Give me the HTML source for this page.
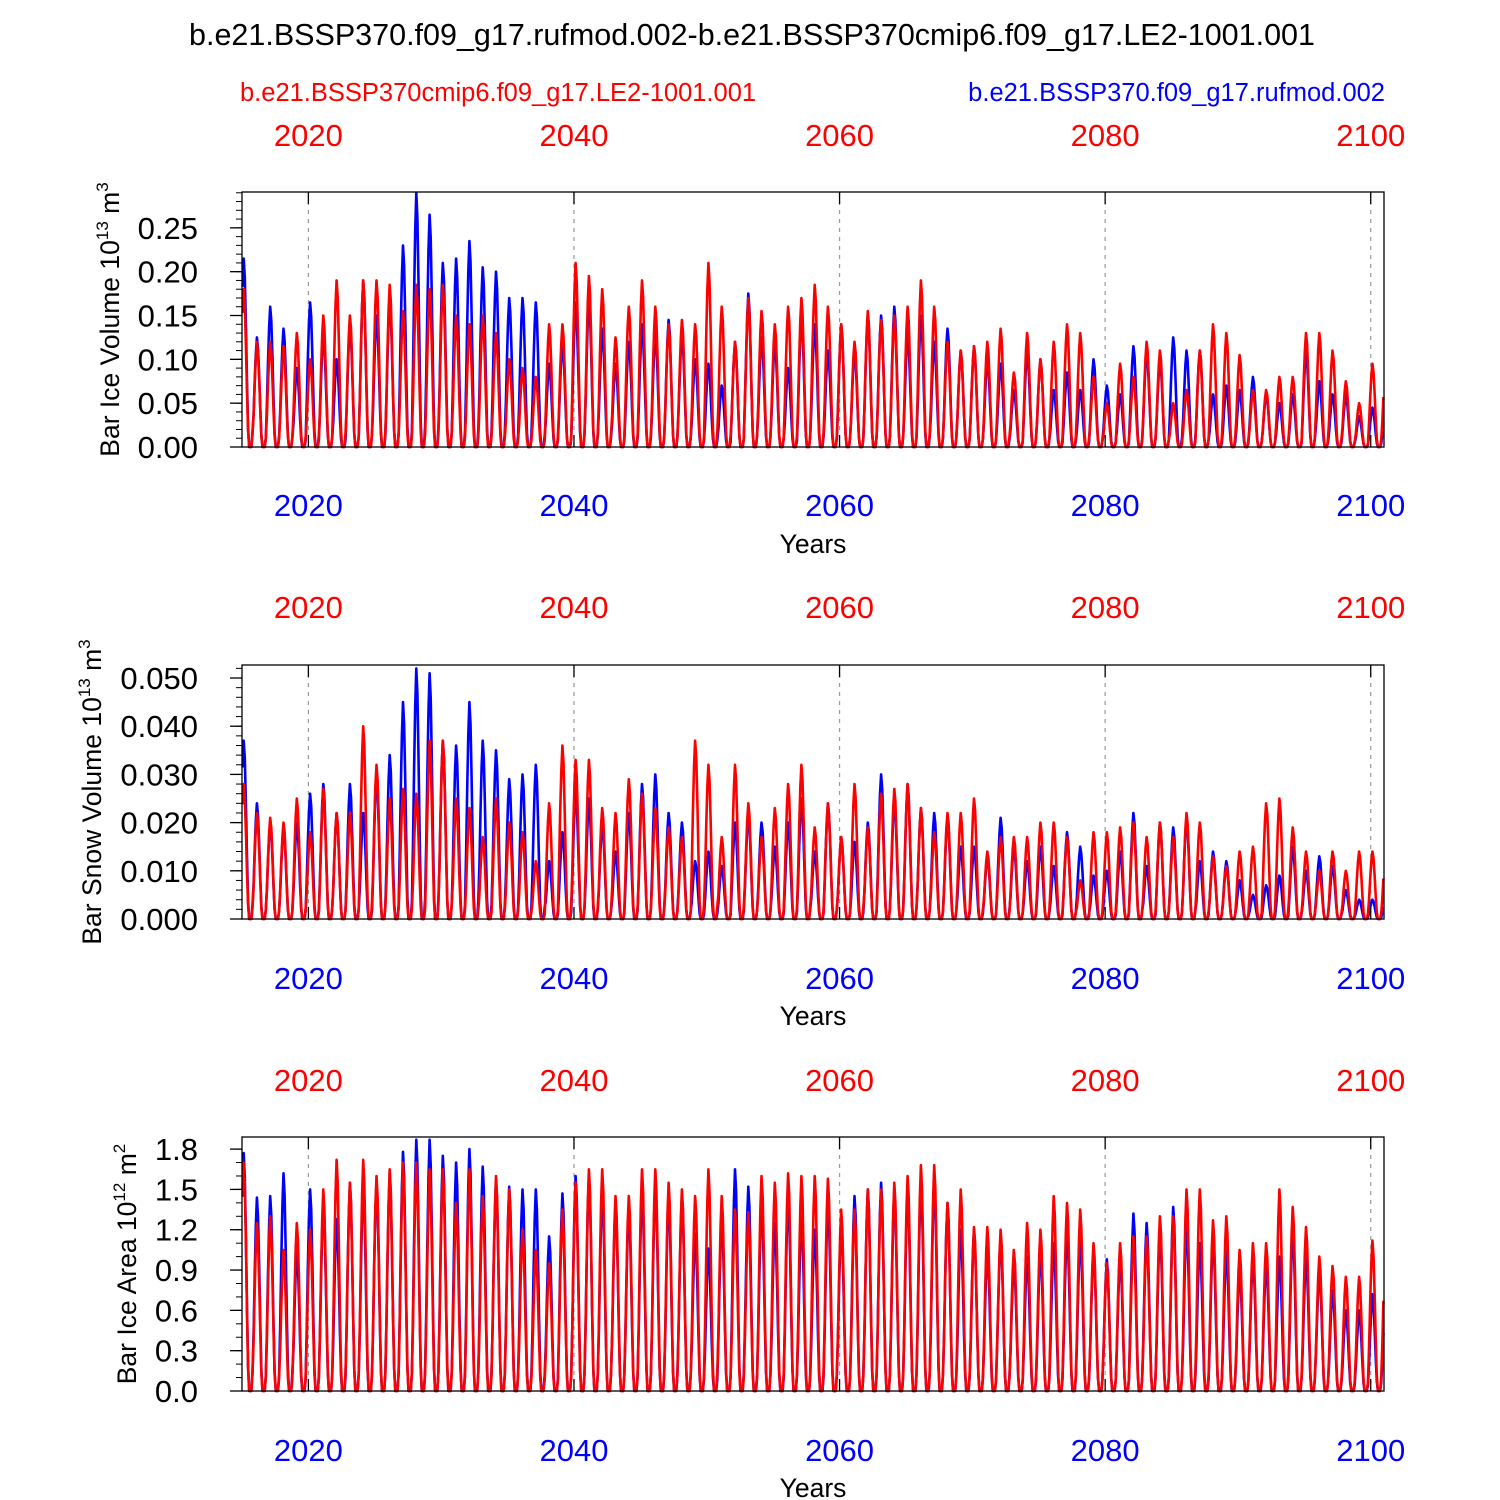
<!DOCTYPE html>
<html><head><meta charset="utf-8"><style>
body{margin:0;background:#fff;}
svg{display:block;font-family:"Liberation Sans",sans-serif;}
</style></head><body>
<svg id="chart" width="1500" height="1500" viewBox="0 0 1500 1500">
<text x="752" y="45" font-size="30.5" text-anchor="middle">b.e21.BSSP370.f09_g17.rufmod.002-b.e21.BSSP370cmip6.f09_g17.LE2-1001.001</text>
<text x="240" y="101" font-size="25.5" fill="#f00">b.e21.BSSP370cmip6.f09_g17.LE2-1001.001</text>
<text x="1385" y="101" font-size="25.5" fill="#00f" text-anchor="end">b.e21.BSSP370.f09_g17.rufmod.002</text>
</svg>
<script>
const years = [];
for (let y = 2015; y <= 2100; y++) years.push(y);
const xTickYears = [2020, 2040, 2060, 2080, 2100];
const seasonalShape = [0.85, 1.0, 0.9, 0.65, 0.35, 0.1, 0.0, 0.0, 0.0, 0.08, 0.3, 0.6];

const volRed = [0.18,0.12,0.12,0.115,0.13,0.10,0.15,0.19,0.15,0.19,
 0.19,0.185,0.155,0.185,0.18,0.185,0.15,0.14,0.15,0.13,
 0.10,0.09,0.08,0.14,0.14,0.21,0.195,0.18,0.125,0.16,
 0.19,0.16,0.14,0.145,0.14,0.21,0.16,0.12,0.17,0.155,
 0.14,0.16,0.17,0.185,0.16,0.14,0.12,0.155,0.145,0.15,
 0.16,0.19,0.16,0.12,0.11,0.115,0.12,0.135,0.085,0.13,
 0.10,0.12,0.14,0.13,0.08,0.05,0.095,0.08,0.12,0.11,
 0.05,0.065,0.11,0.14,0.13,0.105,0.065,0.065,0.08,0.08,
 0.13,0.13,0.11,0.075,0.05,0.095];
const volBlue = [0.215,0.125,0.16,0.135,0.09,0.165,0.13,0.10,0.14,0.19,
 0.15,0.17,0.23,0.29,0.265,0.21,0.215,0.235,0.205,0.20,
 0.17,0.17,0.165,0.095,0.12,0.165,0.17,0.135,0.095,0.12,
 0.14,0.13,0.145,0.13,0.10,0.095,0.07,0.12,0.175,0.125,
 0.12,0.09,0.15,0.14,0.11,0.14,0.11,0.15,0.15,0.16,
 0.13,0.15,0.12,0.135,0.11,0.115,0.10,0.095,0.065,0.11,
 0.10,0.065,0.085,0.065,0.10,0.07,0.06,0.115,0.11,0.10,
 0.125,0.11,0.11,0.06,0.07,0.065,0.08,0.06,0.05,0.06,
 0.11,0.075,0.06,0.06,0.035,0.045];
const snowRed = [0.028,0.022,0.021,0.020,0.025,0.018,0.027,0.022,0.022,0.040,
 0.032,0.025,0.027,0.026,0.037,0.037,0.025,0.023,0.017,0.025,
 0.020,0.018,0.012,0.024,0.036,0.033,0.033,0.023,0.022,0.029,
 0.026,0.023,0.019,0.017,0.037,0.032,0.017,0.032,0.024,0.017,
 0.023,0.028,0.032,0.019,0.024,0.017,0.028,0.019,0.026,0.027,
 0.028,0.023,0.018,0.022,0.022,0.025,0.014,0.017,0.017,0.017,
 0.020,0.020,0.017,0.008,0.018,0.018,0.019,0.020,0.017,0.020,
 0.017,0.022,0.020,0.013,0.011,0.014,0.015,0.024,0.025,0.019,
 0.014,0.010,0.014,0.010,0.014,0.014];
const snowBlue = [0.037,0.024,0.020,0.019,0.020,0.026,0.028,0.022,0.028,0.022,
 0.030,0.034,0.045,0.052,0.051,0.037,0.036,0.045,0.037,0.035,
 0.029,0.030,0.032,0.012,0.018,0.027,0.025,0.020,0.014,0.022,
 0.028,0.030,0.022,0.020,0.012,0.014,0.011,0.020,0.022,0.020,
 0.015,0.020,0.025,0.014,0.024,0.017,0.016,0.020,0.030,0.025,
 0.028,0.023,0.022,0.021,0.015,0.015,0.013,0.021,0.015,0.012,
 0.015,0.011,0.018,0.015,0.009,0.010,0.014,0.022,0.011,0.020,
 0.019,0.021,0.012,0.014,0.012,0.008,0.005,0.007,0.009,0.015,
 0.010,0.013,0.011,0.006,0.004,0.004];
const areaRed = [1.7,1.25,1.3,1.05,1.25,1.2,1.5,1.72,1.55,1.72,
 1.6,1.65,1.7,1.7,1.65,1.65,1.4,1.65,1.45,1.6,
 1.5,1.2,1.05,0.95,1.35,1.55,1.65,1.65,1.45,1.45,
 1.65,1.65,1.55,1.5,1.45,1.65,1.45,1.35,1.33,1.6,
 1.55,1.62,1.6,1.6,1.58,1.35,1.35,1.5,1.5,1.55,
 1.6,1.68,1.68,1.4,1.5,1.22,1.22,1.2,1.05,1.25,
 1.2,1.45,1.4,1.35,1.1,0.95,1.1,1.15,1.15,1.3,
 1.3,1.5,1.5,1.27,1.3,1.05,1.1,1.1,1.5,1.37,
 1.22,1.0,0.93,0.85,0.85,1.12];
const areaBlue = [1.77,1.44,1.45,1.62,1.05,1.5,1.42,1.28,1.55,1.55,
 1.55,1.62,1.78,1.87,1.87,1.75,1.7,1.8,1.67,1.57,
 1.52,1.5,1.5,1.15,1.47,1.6,1.6,1.5,1.4,1.35,
 1.5,1.55,1.45,1.45,1.17,1.06,1.3,1.65,1.52,1.4,
 1.25,1.45,1.3,1.2,1.4,1.25,1.45,1.5,1.55,1.5,
 1.5,1.55,1.57,1.4,1.2,1.2,1.05,1.15,0.95,1.0,
 1.05,1.1,1.2,1.15,1.05,0.98,1.0,1.32,1.25,1.2,
 1.37,1.25,1.1,1.15,1.05,0.9,1.0,0.95,1.0,1.2,
 1.0,0.9,0.75,0.6,0.6,0.72];

const volTicks = ["0.00","0.05","0.10","0.15","0.20","0.25"];
const snowTicks = ["0.000","0.010","0.020","0.030","0.040","0.050"];
const areaTicks = ["0.0","0.3","0.6","0.9","1.2","1.5","1.8"];

const NS = "http://www.w3.org/2000/svg";
const svg = document.getElementById('chart');
const X0 = 242, X1 = 1384, T0 = 2015, T1 = 2101;
function xScale(t){ return X0 + (t - T0) / (T1 - T0) * (X1 - X0); }
function mk(tag, attrs, parent){
  const e = document.createElementNS(NS, tag);
  for (const k in attrs) e.setAttribute(k, attrs[k]);
  (parent || svg).appendChild(e);
  return e;
}

const panels = [
 {key:'ice-volume', top:192, bottom:447, ymax:0.2909, ticks:volTicks, minor:0.01, red:volRed, blue:volBlue, title:'Bar Ice Volume 10', exp:'13', unit:' m', uexp:'3', tx:119, topLab:146, botLab:516, years:555},
 {key:'snow-volume', top:665, bottom:919, ymax:0.0527, ticks:snowTicks, minor:0.002, red:snowRed, blue:snowBlue, title:'Bar Snow Volume 10', exp:'13', unit:' m', uexp:'3', tx:101, topLab:618, botLab:989, years:1027},
 {key:'ice-area', top:1137, bottom:1391, ymax:1.89, ticks:areaTicks, minor:0.1, red:areaRed, blue:areaBlue, title:'Bar Ice Area 10', exp:'12', unit:' m', uexp:'2', tx:136, topLab:1091, botLab:1461, years:1499}
];

panels.forEach(p => {
  const g = mk('g', {});
  
  
  const yScale = v => p.bottom - v / p.ymax * (p.bottom - p.top);
  xTickYears.forEach(yr => {
    const l = mk('line', {x1:xScale(yr), x2:xScale(yr), y1:p.top, y2:p.bottom, stroke:'#999', 'stroke-width':1.2, 'stroke-dasharray':'4,5'}, g);
    
    
  });
  [['blue', p.blue, '#00f'], ['red', p.red, '#f00']].forEach(([nm, arr, col]) => {
    const pts = [];
    for (let i = 0; i < arr.length; i++) {
      for (let m = 0; m < 12; m++) {
        const peak = (m >= 10 && i + 1 < arr.length) ? arr[i + 1] : arr[i];
        const v = peak * seasonalShape[m];
        pts.push(xScale(years[i] + (m + 0.5) / 12).toFixed(1) + ',' + yScale(v).toFixed(1));
      }
    }
    const pl = mk('polyline', {points: pts.join(' '), fill:'none', stroke:col, 'stroke-width':2.6, 'stroke-linejoin':'round'}, g);
    
    
  });
  const fr = mk('rect', {x:X0, y:p.top, width:X1 - X0, height:p.bottom - p.top, fill:'none', stroke:'#000', 'stroke-width':1.3}, g);
  
  
  for (let v = 0; v <= p.ymax + 1e-9; v += p.minor) {
    const y = yScale(v);
    mk('line', {x1:X0 - 6, x2:X0, y1:y, y2:y, stroke:'#000', 'stroke-width':1}, g);
  }
  p.ticks.forEach(t => {
    const y = yScale(parseFloat(t));
    mk('line', {x1:X0 - 12, x2:X0, y1:y, y2:y, stroke:'#000', 'stroke-width':1.3}, g);
    const tx = mk('text', {x:198, y:y + 11, 'font-size':31, 'text-anchor':'end'}, g);
    tx.textContent = t;
    
    
  });
  xTickYears.forEach(yr => {
    const x = xScale(yr);
    mk('line', {x1:x, x2:x, y1:p.top, y2:p.top + 12, stroke:'#000', 'stroke-width':1.3}, g);
    mk('line', {x1:x, x2:x, y1:p.bottom - 12, y2:p.bottom, stroke:'#000', 'stroke-width':1.3}, g);
    const t1 = mk('text', {x:x, y:p.topLab, 'font-size':31, fill:'#f00', 'text-anchor':'middle'}, g);
    t1.textContent = yr;
    
    
    const t2 = mk('text', {x:x, y:p.botLab, 'font-size':31, fill:'#00f', 'text-anchor':'middle'}, g);
    t2.textContent = yr;
    
    
  });
  const xt = mk('text', {x:813, y:p.years - 2, 'font-size':26.5, 'text-anchor':'middle'}, g);
  xt.textContent = 'Years';
  
  
  const cy = (p.top + p.bottom) / 2;
  const yt = mk('text', {x:0, y:0, 'font-size':26.5, 'text-anchor':'middle', transform:'translate(' + p.tx + ',' + cy + ') rotate(-90)'}, g);
  
  
  const s1 = mk('tspan', {}, yt); s1.textContent = p.title;
  const s2 = mk('tspan', {dy:-11, 'font-size':17}, yt); s2.textContent = p.exp;
  const s3 = mk('tspan', {dy:11}, yt); s3.textContent = p.unit;
  const s4 = mk('tspan', {dy:-11, 'font-size':17}, yt); s4.textContent = p.uexp;
});
</script>
</body></html>
